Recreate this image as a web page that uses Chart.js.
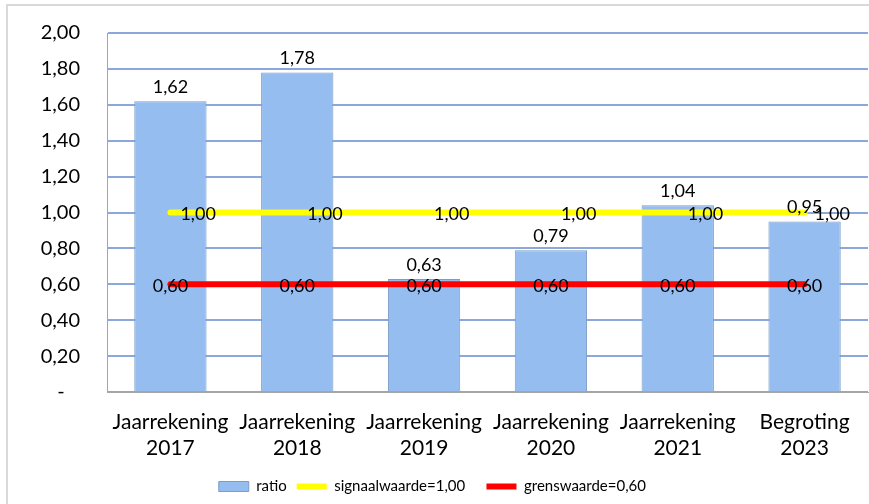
<!DOCTYPE html>
<html>
<head>
<meta charset="utf-8">
<script src="https://cdn.jsdelivr.net/npm/chart.js@4/dist/chart.umd.min.js"></script>
<style>
  html, body { margin: 0; padding: 0; background: #fff; }
  #wrap { width: 869px; height: 504px; }
</style>
</head>
<body>
<div id="wrap"><canvas id="chart" width="869" height="504"></canvas></div>
<script>
// --- data ---
const categories = [
    ['Jaarrekening', '2017'],
    ['Jaarrekening', '2018'],
    ['Jaarrekening', '2019'],
    ['Jaarrekening', '2020'],
    ['Jaarrekening', '2021'],
    ['Begroting', '2023']
];
const ratio = [1.62, 1.78, 0.63, 0.79, 1.04, 0.95];
const signaalwaarde = [1.00, 1.00, 1.00, 1.00, 1.00, 1.00];
const grenswaarde = [0.60, 0.60, 0.60, 0.60, 0.60, 0.60];
// ---

const FONT = 'Lato, "Open Sans", sans-serif';
const fmt = v => v.toFixed(2).replace('.', ',');

// kader rond de grafiek
const frame = {
    id: 'frame',
    beforeDraw(chart) {
        const ctx = chart.ctx;
        ctx.save();
        ctx.fillStyle = '#fff';
        ctx.fillRect(0, 0, chart.width, chart.height);
        ctx.strokeStyle = '#d9d9d9';
        ctx.lineWidth = 2;
        ctx.strokeRect(7, 5, chart.width + 20, chart.height + 20);
        ctx.restore();
    }
};

// waardelabels
const valueLabels = {
    id: 'valueLabels',
    afterDatasetsDraw(chart) {
        const ctx = chart.ctx;
        ctx.save();
        ctx.fillStyle = '#000';
        ctx.font = '18px ' + FONT;
        chart.data.datasets.forEach((ds, i) => {
            const meta = chart.getDatasetMeta(i);
            meta.data.forEach((el, j) => {
                const txt = fmt(ds.data[j]);
                if (ds.type === 'bar') {
                    ctx.textAlign = 'center';
                    ctx.textBaseline = 'alphabetic';
                    ctx.fillText(txt, el.x, el.y - 8);
                } else if (ds.labelPos === 'right') {
                    ctx.textAlign = 'left';
                    ctx.textBaseline = 'middle';
                    ctx.fillText(txt, el.x + 10, el.y + 2);
                } else {
                    ctx.textAlign = 'center';
                    ctx.textBaseline = 'middle';
                    ctx.fillText(txt, el.x, el.y + 2);
                }
            });
        });
        ctx.restore();
    }
};

new Chart(document.getElementById('chart'), {
    data: {
        labels: categories,
        datasets: [
            {
                type: 'bar',
                label: 'ratio',
                data: ratio,
                backgroundColor: '#95bdef',
                borderColor: '#7b9bc9',
                borderWidth: 1,
                categoryPercentage: 1,
                barPercentage: 0.57,
                order: 2,
                pointStyle: 'rect'
            },
            {
                type: 'line',
                label: 'signaalwaarde=1,00',
                data: signaalwaarde,
                borderColor: '#ffff00',
                backgroundColor: '#ffff00',
                borderWidth: 6,
                borderCapStyle: 'round',
                pointRadius: 0,
                pointStyle: 'line',
                order: 1,
                labelPos: 'right'
            },
            {
                type: 'line',
                label: 'grenswaarde=0,60',
                data: grenswaarde,
                borderColor: '#ff0000',
                backgroundColor: '#ff0000',
                borderWidth: 6,
                borderCapStyle: 'round',
                pointRadius: 0,
                pointStyle: 'line',
                order: 0,
                labelPos: 'center'
            }
        ]
    },
    options: {
        responsive: false,
        animation: false,
        layout: { padding: { top: 33, right: 1, left: 8, bottom: 0 } },
        scales: {
            x: {
                grid: { display: false, drawTicks: false },
                border: { color: '#a6a6a6', width: 1 },
                ticks: {
                    color: '#000',
                    font: { family: FONT, size: 21 },
                    padding: 18,
                    maxRotation: 0,
                    autoSkip: false
                },
                afterFit: s => { s.height = 77; }
            },
            y: {
                min: 0,
                max: 2,
                grid: { color: '#8aa8dc', lineWidth: 2, drawTicks: false },
                border: { color: '#a6a6a6', width: 1 },
                ticks: {
                    stepSize: 0.2,
                    color: '#000',
                    font: { family: FONT, size: 20 },
                    padding: 27,
                    callback: v => Math.abs(v) < 1e-9 ? '-   ' : fmt(v)
                },
                afterFit: s => { s.width = 99; s.paddingTop = 0; s.paddingBottom = 0; }
            }
        },
        plugins: {
            legend: {
                position: 'bottom',
                labels: {
                    color: '#000',
                    font: { family: FONT, size: 15 },
                    usePointStyle: true,
                    pointStyleWidth: 30,
                    boxHeight: 10,
                    padding: 10,
                    sort: (a, b) => a.datasetIndex - b.datasetIndex,
                    // extra ruimte tussen de legenda-items
                    generateLabels: chart => {
                        const items = Chart.defaults.plugins.legend.labels.generateLabels(chart);
                        items.forEach((it, k) => { if (k < items.length - 1) it.text = it.text + '\u2003'; });
                        return items;
                    }
                }
            },
            tooltip: { enabled: false }
        }
    },
    plugins: [frame, valueLabels]
});
</script>
</body>
</html>
